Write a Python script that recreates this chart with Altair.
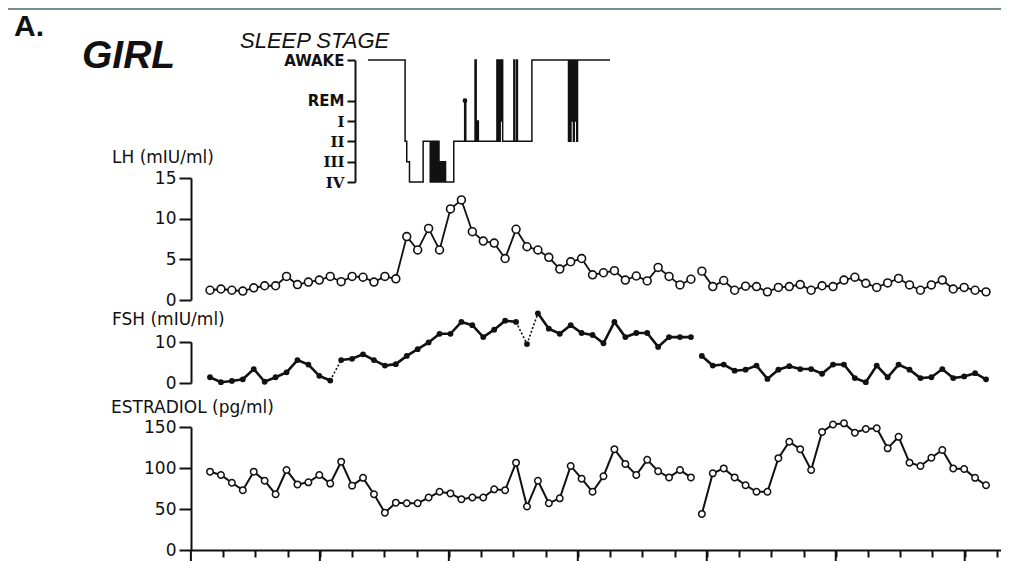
import altair as alt
import pandas as pd

INK = "#111111"

# ---------------- data (20-min samples) ----------------
LH = [1.2, 1.35, 1.2, 1.1, 1.5, 1.75, 1.75, 2.9, 1.9, 2.2, 2.45, 2.9, 2.25, 2.9, 2.8, 2.2, 2.9, 2.6,
      7.8, 6.15, 8.8, 6.15, 11.2, 12.3, 8.4, 7.25, 7.0, 5.1, 8.7, 6.55, 6.15, 5.25, 3.8, 4.7, 5.1, 3.1,
      3.35, 3.6, 2.45, 2.95, 2.35, 4.0, 2.9, 1.85, 2.55,
      3.55, 1.65, 2.4, 1.2, 1.7, 1.65, 1.0, 1.55, 1.65, 1.9, 1.2, 1.75, 1.65, 2.45, 2.8, 2.05, 1.55,
      2.1, 2.65, 1.85, 1.2, 1.85, 2.45, 1.35, 1.55, 1.2, 1.0]

FSH = [1.4, 0.2, 0.5, 0.9, 3.4, 0.3, 1.4, 2.6, 5.6, 4.5, 1.75, 0.6, 5.6, 5.9, 7.0, 5.6, 4.25, 4.6,
       6.6, 8.25, 9.9, 12.0, 12.0, 14.9, 14.1, 11.2, 13.0, 15.2, 14.9, 9.5, 17.0, 13.25, 12.0, 14.1,
       12.2, 11.7, 9.7, 14.9, 11.2, 12.2, 12.2, 8.8, 11.2, 11.2, 11.2,
       6.6, 4.25, 4.5, 3.0, 3.25, 4.25, 1.0, 3.25, 4.1, 3.4, 3.4, 2.25, 4.5, 4.5, 1.2, 0.2, 4.25,
       1.4, 4.5, 3.25, 1.2, 1.4, 3.4, 1.2, 1.6, 2.4, 0.9]

E2 = [95.5, 91.5, 82, 73, 95.5, 84.5, 68, 97.5, 80, 82.5, 91.5, 81, 107.7, 78.5, 88, 68, 45.5, 57.7,
      57, 57, 64, 71, 69, 62, 64, 64, 74, 73, 106.5, 53, 84.5, 57, 63, 102.5, 87, 71,
      90, 123, 105, 91.5, 110, 96, 88.5, 97.5, 88.5,
      44, 93.5, 99.5, 88.5, 79, 71, 71, 112, 132, 123, 97.5, 144, 153, 154.5, 143, 147.5, 148.5,
      124, 138, 106.5, 102.5, 112.5, 122, 99.5, 98.8, 88, 79]

SAMPLE_MIN = 20          # sampling interval (minutes)
GAP_AFTER = 44           # series are broken after this sample
FSH_DOTTED = [(11, 12), (28, 29), (29, 30)]   # faint/dotted FSH joins

# sleep stage hypnogram: time (min) and stage code (6 awake, 4 REM, 3 I, 2 II, 1 III, 0 IV)
HYP_T = [289, 357, 360, 365, 390, 403, 405, 407, 409, 411, 413, 415, 417, 419, 421, 423, 425, 427,
         429, 431, 446, 466, 468, 485, 487, 489, 491, 525, 526.5, 528, 529.5, 531, 532.5, 534, 535.5,
         556, 557.5, 561, 562.5, 589, 656, 657.5, 659, 660.5, 662, 663.5, 665, 666.5, 668, 669.5,
         671, 672.5, 732]
HYP_S = [6, 2, 1, 0, 2, 0, 2, 0, 2, 0, 2, 0, 2, 0, 1, 0, 1, 0,
         1, 0, 2, 4, 2, 6, 2, 3, 2, 6, 2, 6, 2, 6, 3, 6, 2,
         6, 2, 6, 2, 6, 2, 6, 2, 6, 3, 6, 2, 6, 3, 6,
         2, 6, 6]
HYP_DOT_T = [466.5]
HYP_DOT_S = [4]
STAGE_CODES = [6, 4, 3, 2, 1, 0]
STAGE_LABELS = ["AWAKE", "REM", "I", "II", "III", "IV"]

X_TICKS = [-35, 24, 83, 142, 201, 260, 319, 378, 437, 496, 555, 614, 673, 732, 791, 850, 909,
           968, 1027, 1086, 1145, 1204, 1263, 1322, 1381, 1440]
X_MAJOR = [-35, 201, 437, 673, 909, 1145, 1381]

LH_TICKS = [0, 5, 10, 15]
FSH_TICKS = [0, 10]
E2_TICKS = [0, 50, 100, 150]

TXT_PANEL = "A."
TXT_SUBJECT = "GIRL"
TXT_SLEEP = "SLEEP STAGE"
TXT_LH = "LH (mIU/ml)"
TXT_FSH = "FSH (mIU/ml)"
TXT_E2 = "ESTRADIOL (pg/ml)"

# ---------------- tables ----------------
n = len(LH)
t = [SAMPLE_MIN * i for i in range(n)]
seg = [0 if i <= GAP_AFTER else 1 for i in range(n)]
fseg, s = [], 0
for i in range(n):
    if i > 0 and ((i - 1, i) in FSH_DOTTED or i == GAP_AFTER + 1):
        s += 1
    fseg.append(s)
df = pd.DataFrame({"t": t, "LH": LH, "FSH": FSH, "E2": E2, "seg": seg, "fseg": fseg})

dot_rows = []
for k, (a, b) in enumerate(FSH_DOTTED):
    dot_rows += [{"pair": k, "t": t[a], "FSH": FSH[a]}, {"pair": k, "t": t[b], "FSH": FSH[b]}]
df_dot = pd.DataFrame(dot_rows)

df_hyp = pd.DataFrame({"t": HYP_T, "s": HYP_S})
df_hdot = pd.DataFrame({"t": HYP_DOT_T, "s": HYP_DOT_S})
df_major = pd.DataFrame({"t": X_MAJOR})

# ---------------- scales / axes ----------------
W, H = 810, 490
xscale = alt.Scale(domain=[-34.8, 1447.4], nice=False, zero=False)
xaxis = alt.Axis(title=None, labels=False, values=X_TICKS, tickSize=7, tickWidth=2,
                 domainWidth=2, domainColor=INK, tickColor=INK, grid=False, orient="bottom")
X = alt.X("t:Q", scale=xscale, axis=xaxis)


def yaxis(vals):
    return alt.Axis(title=None, orient="left", values=vals, tickSize=12, tickWidth=2,
                    domainWidth=2, domainColor=INK, tickColor=INK, labelColor=INK,
                    labelFont="DejaVu Sans", labelFontSize=17, labelPadding=3, grid=False)


Y_LH = alt.Y("LH:Q", scale=alt.Scale(domain=[0, 15], range=[240, 118], nice=False, zero=False),
             axis=yaxis(LH_TICKS))
Y_FSH = alt.Y("FSH:Q", scale=alt.Scale(domain=[0, 10], range=[323, 282], nice=False, zero=False),
              axis=yaxis(FSH_TICKS))
Y_E2 = alt.Y("E2:Q", scale=alt.Scale(domain=[0, 150], range=[490, 367], nice=False, zero=False),
             axis=yaxis(E2_TICKS))

label_expr = ""
for c, lab in zip(STAGE_CODES, STAGE_LABELS):
    label_expr += f"datum.value == {c} ? '{lab}' : "
label_expr += "''"

Y_HYP = alt.Y("s:Q", scale=alt.Scale(domain=[0, 6], range=[122, 0], nice=False, zero=False),
              axis=alt.Axis(title=None, orient="left", offset=-164, values=STAGE_CODES,
                            labelExpr=label_expr, tickSize=8, tickWidth=2, domainWidth=2,
                            domainColor=INK, tickColor=INK, labelColor=INK, labelFontSize=15,
                            labelFontWeight="bold", labelPadding=3, grid=False,
                            labelFont={"condition": {"test": "datum.value <= 3",
                                                     "value": "DejaVu Serif"},
                                       "value": "DejaVu Sans"}))

base = alt.Chart(df)

lh = alt.layer(
    base.mark_line(color=INK, strokeWidth=1.8).encode(x=X, y=Y_LH, detail="seg:N"),
    base.mark_circle(size=62, fill="white", stroke=INK, strokeWidth=1.6, opacity=1).encode(x=X, y=Y_LH),
)
fsh = alt.layer(
    base.mark_line(color=INK, strokeWidth=2.6).encode(x=X, y=Y_FSH, detail="fseg:N"),
    alt.Chart(df_dot).mark_line(color=INK, strokeWidth=1.6, strokeDash=[2, 2]).encode(
        x=X, y=Y_FSH, detail="pair:N"),
    base.mark_circle(size=34, color=INK, opacity=1).encode(x=X, y=Y_FSH),
)
e2 = alt.layer(
    base.mark_line(color=INK, strokeWidth=2).encode(x=X, y=Y_E2, detail="seg:N"),
    base.mark_circle(size=42, fill="white", stroke=INK, strokeWidth=1.5, opacity=1).encode(x=X, y=Y_E2),
)
hyp = alt.layer(
    alt.Chart(df_hyp).mark_line(color=INK, strokeWidth=1.5, interpolate="step-after").encode(x=X, y=Y_HYP),
    alt.Chart(df_hdot).mark_circle(size=22, color=INK, opacity=1).encode(x=X, y=Y_HYP),
)

major = alt.Chart(df_major).mark_rule(color=INK, strokeWidth=2).encode(
    x=X, y=alt.value(H), y2=alt.value(H + 11))

one = pd.DataFrame({"k": [0]})


def label(txt, x, y, size, weight="normal", style="normal", font="DejaVu Sans"):
    return alt.Chart(one).mark_text(text=txt, align="left", baseline="alphabetic", fontSize=size,
                                    fontWeight=weight, fontStyle=style, font=font, color=INK).encode(
        x=alt.value(x), y=alt.value(y))


top_rule = alt.Chart(one).mark_rule(color="#6f8f90", strokeWidth=2).encode(
    x=alt.value(-183), x2=alt.value(W), y=alt.value(-51))

texts = [
    top_rule,
    label(TXT_PANEL, -177, -24, 30, weight="bold", font="Liberation Sans"),
    label(TXT_SUBJECT, -109, 8, 39, weight="bold", style="italic", font="Liberation Sans"),
    label(TXT_SLEEP, 49, -12, 22, style="italic", font="Liberation Sans"),
    label(TXT_LH, -79, 103, 17),
    label(TXT_FSH, -79, 265, 17),
    label(TXT_E2, -80, 353, 17),
]

chart = alt.layer(hyp, lh, fsh, e2, major, *texts).resolve_scale(y="independent").properties(
    width=W, height=H,
    padding={"left": 183, "top": 52, "right": 0, "bottom": 12},
    autosize=alt.AutoSizeParams(type="none"),
    background="white",
).configure_view(stroke=None)

chart.save("out.html", embed_options={"renderer": "svg", "actions": False})
